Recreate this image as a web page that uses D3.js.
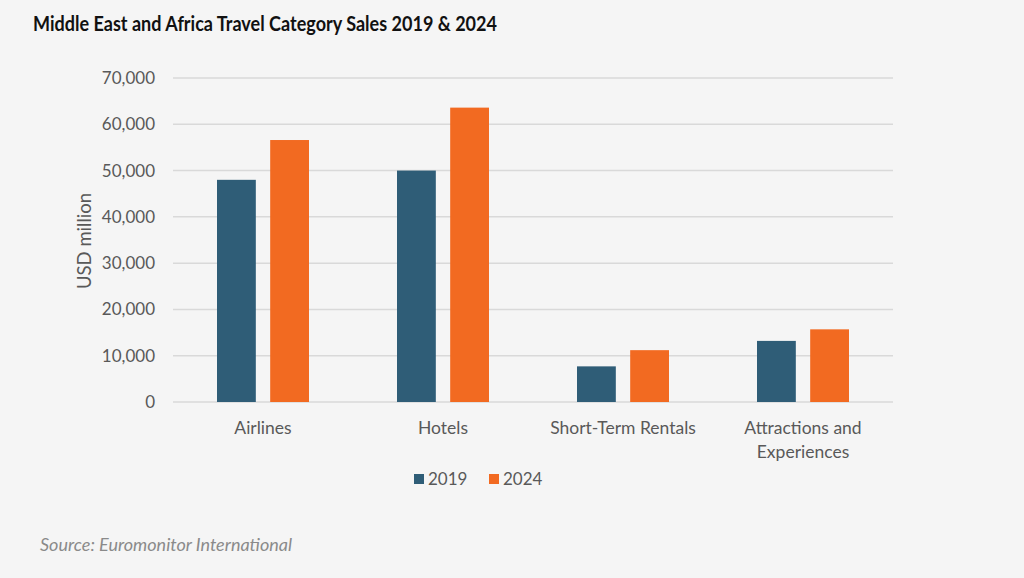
<!DOCTYPE html>
<html>
<head>
<meta charset="utf-8">
<script src="https://cdn.jsdelivr.net/npm/d3@7"></script>
<style>
  body { margin: 0; background: #f5f5f5; }
  svg { display: block; }
</style>
</head>
<body>
<svg id="chart" width="1024" height="578"></svg>
<script>
// chart data
var categories = ["Airlines", "Hotels", "Short-Term Rentals", "Attractions and Experiences"];
var categoryLines = [["Airlines"], ["Hotels"], ["Short-Term Rentals"], ["Attractions and", "Experiences"]];
var years = ["2019", "2024"];
var sales2019 = [48000, 50000, 7700, 13200];
var sales2024 = [56600, 63600, 11200, 15700];
var yTicks = [0, 10000, 20000, 30000, 40000, 50000, 60000, 70000];

var colors = { "2019": "#2f5d77", "2024": "#f26a21" };
var font = "Lato, 'Open Sans', sans-serif";

var svg = d3.select("#chart"),
    width = +svg.attr("width"),
    height = +svg.attr("height");

svg.append("rect")
    .attr("width", width)
    .attr("height", height)
    .attr("fill", "#f5f5f5");

var margin = {top: 78, right: 131, bottom: 176, left: 173},
    plotW = width - margin.left - margin.right,
    plotH = height - margin.top - margin.bottom;

var g = svg.append("g")
    .attr("transform", "translate(" + margin.left + "," + margin.top + ")");

var x = d3.scaleBand()
    .domain(categories)
    .range([0, plotW]);

var xInner = d3.scaleBand()
    .domain(years)
    .range([44, 136])
    .paddingInner(0.27);

var y = d3.scaleLinear()
    .domain([0, 70000])
    .range([plotH, 0]);

// gridlines
g.append("g")
    .selectAll("line")
    .data(yTicks)
    .enter().append("line")
    .attr("x1", 0)
    .attr("x2", plotW)
    .attr("y1", function(d) { return y(d); })
    .attr("y2", function(d) { return y(d); })
    .attr("stroke", "#d9d9d9")
    .attr("stroke-width", 1.5);

// y axis labels
var yAxis = g.append("g")
    .call(d3.axisLeft(y).tickValues(yTicks).tickSize(0).tickPadding(18).tickFormat(d3.format(",")));
yAxis.select(".domain").remove();
yAxis.selectAll("text")
    .attr("font-family", font)
    .attr("font-size", "17px")
    .attr("fill", "#595959");

// bars
var rows = categories.map(function(c, i) {
    return { cat: c, values: [{year: "2019", v: sales2019[i]}, {year: "2024", v: sales2024[i]}] };
});

var groups = g.selectAll(".cat")
    .data(rows)
    .enter().append("g")
    .attr("class", "cat")
    .attr("transform", function(d) { return "translate(" + x(d.cat) + ",0)"; });

groups.selectAll("rect")
    .data(function(d) { return d.values; })
    .enter().append("rect")
    .attr("x", function(d) { return xInner(d.year); })
    .attr("width", xInner.bandwidth())
    .attr("y", function(d) { return y(d.v); })
    .attr("height", function(d) { return plotH - y(d.v); })
    .attr("fill", function(d) { return colors[d.year]; });

// category labels
var catLabels = g.append("g")
    .selectAll("text")
    .data(categories)
    .enter().append("text")
    .attr("x", function(d) { return x(d) + x.bandwidth() / 2; })
    .attr("y", plotH + 32)
    .attr("text-anchor", "middle")
    .attr("font-family", font)
    .attr("font-size", "17.5px")
    .attr("fill", "#595959");

catLabels.each(function(d, i) {
    var t = d3.select(this);
    categoryLines[i].forEach(function(line, j) {
        t.append("tspan")
            .attr("x", x(d) + x.bandwidth() / 2)
            .attr("dy", j === 0 ? 0 : 24)
            .text(line);
    });
});

// y axis title
svg.append("text")
    .attr("transform", "translate(91,241) rotate(-90)")
    .attr("text-anchor", "middle")
    .attr("font-family", font)
    .attr("font-size", "18.5px")
    .attr("fill", "#595959")
    .text("USD million");

// legend
var legend = svg.append("g")
    .attr("transform", "translate(414,474)");

var legendItems = legend.selectAll("g")
    .data(years)
    .enter().append("g")
    .attr("transform", function(d, i) { return "translate(" + (i * 75) + ",0)"; });

legendItems.append("rect")
    .attr("width", 10)
    .attr("height", 10)
    .attr("fill", function(d) { return colors[d]; });

legendItems.append("text")
    .attr("x", 14)
    .attr("y", 11)
    .attr("font-family", font)
    .attr("font-size", "17px")
    .attr("fill", "#595959")
    .text(function(d) { return d; });

// title
svg.append("text")
    .attr("x", 33)
    .attr("y", 31)
    .attr("font-family", font)
    .attr("font-weight", "bold")
    .attr("font-size", "20px")
    .attr("fill", "#111")
    .attr("textLength", 464)
    .attr("lengthAdjust", "spacingAndGlyphs")
    .text("Middle East and Africa Travel Category Sales 2019 & 2024");

// source
svg.append("text")
    .attr("x", 40)
    .attr("y", 551)
    .attr("font-family", font)
    .attr("font-style", "italic")
    .attr("font-size", "18px")
    .attr("fill", "#8a8a8a")
    .text("Source: Euromonitor International");
</script>
</body>
</html>
